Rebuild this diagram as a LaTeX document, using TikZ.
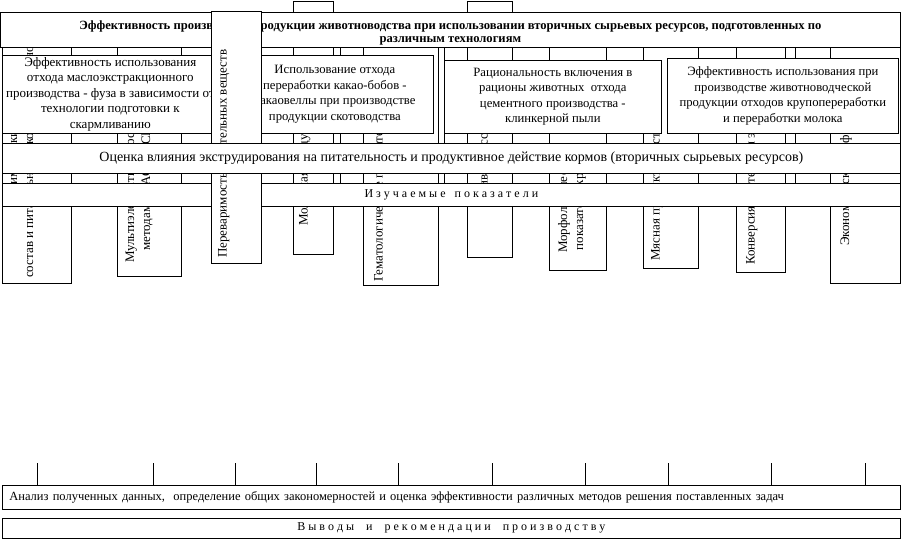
\documentclass[tikz,border=0pt]{standalone}
\usepackage{fontspec}
\setmainfont{Liberation Serif}
\usetikzlibrary{positioning}

\begin{document}
\begin{tikzpicture}[
    x=1pt, y=-1pt,
    frame/.style={draw,line width=0.7pt,fill=white,inner sep=1pt,anchor=north west},
    colbox/.style={frame},
    coltext/.style={rotate=90,anchor=north west,align=center,inner sep=1pt,font=\fontsize{13}{16}\selectfont},
    band/.style={frame,align=center,font=\fontsize{12.7}{15.5}\selectfont},
    tick/.style={line width=0.7pt}
  ]
    \useasboundingbox (0,0) rectangle (901,540);
    % columns behind the bands
    \node[colbox,minimum width=69pt,minimum height=243pt] (c1) at (2,40) {};
    \node[coltext] (c1t) at (7,279) {Химический\\состав и питательность кормов и рационов};
    \node[colbox,minimum width=64pt,minimum height=236pt] (c2) at (117,40) {};
    \node[coltext] (c2t) at (124,264) {Мультиэлементный состав\\методами ААС и ИСП};
    \node[colbox,minimum width=40pt,minimum height=253pt] (c4) at (293,1) {};
    \node[coltext] (c4t) at (298,227) {Молочная продуктивность};
    \node[colbox,minimum width=75pt,minimum height=245pt] (c5) at (363,40) {};
    \node[coltext] (c5t) at (373,283) {Гематологические показатели};
    \node[colbox,minimum width=45pt,minimum height=256pt] (c6) at (467,1) {};
    \node[coltext] (c6t) at (478,200) {Живая масса и приросты};
    \node[colbox,minimum width=57pt,minimum height=230pt] (c7) at (549,40) {};
    \node[coltext] (c7t) at (557,254) {Морфологические\\показатели крови};
    \node[colbox,minimum width=55pt,minimum height=228pt] (c8) at (643,40) {};
    \node[coltext] (c8t) at (650,262) {Мясная продуктивность};
    \node[colbox,minimum width=49pt,minimum height=232pt] (c9) at (736,40) {};
    \node[coltext] (c9t) at (745,266) {Конверсия протеина и энергии};
    \node[colbox,minimum width=70pt,minimum height=243pt] (c10) at (830,40) {};
    \node[coltext] (c10t) at (839,247) {Экономическая эффективность};
    \foreach \xx in {340,444,795}
      \draw[tick] (\xx,40) -- (\xx,190);

    % title
    \node[band,minimum width=900pt,minimum height=35pt,font=\bfseries\fontsize{12.6}{13.5}\selectfont] (title) at (0,12)
      {\rule{0pt}{15pt}Эффективность производства продукции животноводства при использовании вторичных сырьевых ресурсов, подготовленных по\\различным технологиям};

    % four wastes
    \node[band,minimum width=216pt,minimum height=78pt,font=\fontsize{13}{15.5}\selectfont] (fuz) at (2,55)
      {Эффективность использования\\отхода маслоэкстракционного\\производства - фуза в зависимости от\\технологии подготовки к\\скармливанию};
    \node[band,minimum width=197pt,minimum height=78pt] (cacao) at (236,55)
      {Использование отхода\\переработки какао-бобов -\\какаовеллы при производстве\\продукции скотоводства};
    \node[band,minimum width=217pt,minimum height=73pt] (dust) at (444,60)
      {Рациональность включения в\\рационы животных \ отхода\\цементного производства -\\клинкерной пыли};
    \node[band,minimum width=231pt,minimum height=75pt] (milk) at (667,58)
      {Эффективность использования при\\производстве животноводческой\\продукции отходов крупопереработки\\и переработки молока};

    % indicators
    \node[band,minimum width=898pt,minimum height=23pt,font=\fontsize{12}{13}\selectfont] (ind) at (2,183)
      {И з у ч а е м ы е \ \ п о к а з а т е л и};

    % tall column on top
    \node[colbox,minimum width=50pt,minimum height=252pt] (c3) at (211,11) {};
    \node[coltext] (c3t) at (217,259) {Переваримость питательных веществ};

    % extrusion band
    \node[band,minimum width=898pt,minimum height=30pt,font=\fontsize{14}{15}\selectfont] (extr) at (2,143)
      {Оценка влияния экструдирования на питательность и продуктивное действие кормов (вторичных сырьевых ресурсов)};

    % analysis and conclusions
    \node[band,minimum width=898pt,minimum height=24pt,text width=890pt,align=left,font=\fontsize{12.5}{13}\selectfont] (anal) at (2,485)
      {\hspace{3pt}Анализ полученных данных, \ определение общих закономерностей и оценка эффективности различных методов решения поставленных задач};
    \foreach \xx in {37,153,235,316,398,492,585,668,771,865}
      \draw[tick] (\xx,463) -- (\xx,485);
    \node[band,minimum width=898pt,minimum height=20pt,font=\fontsize{12}{13}\selectfont] (concl) at (2,518)
      {В ы в о д ы \ \ \ и \ \ \ р е к о м е н д а ц и и \ \ \ п р о и з в о д с т в у};
  \end{tikzpicture}
\end{document}
